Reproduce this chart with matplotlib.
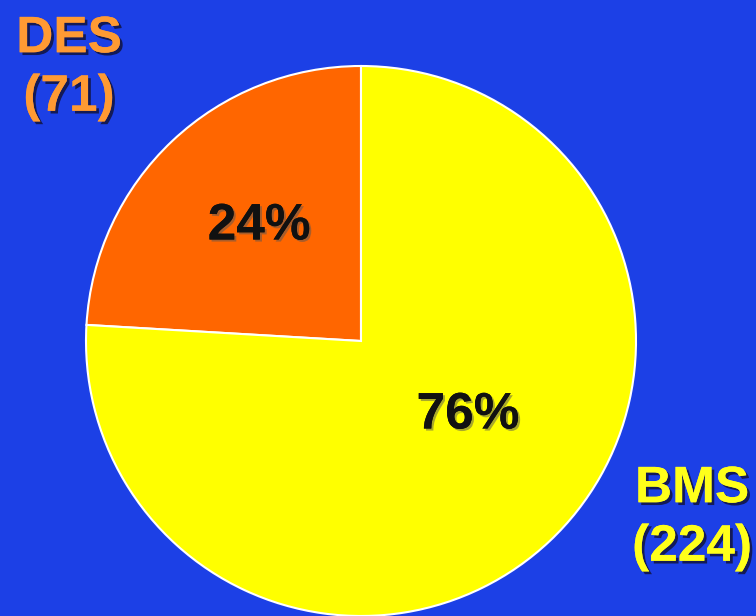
import matplotlib.pyplot as plt
import matplotlib.patheffects as pe

# survey counts per group
labels = ['DES', 'BMS']
counts = [71, 224]
colors = ['#ff6600', '#ffff00']
label_colors = ['#ff9a33', '#ffff1a']

bg = '#1c40e6'
W, H = 756, 616

fig = plt.figure(figsize=(W / 100, H / 100), dpi=100)
fig.patch.set_facecolor(bg)
ax = fig.add_axes([0, 0, 1, 1])
ax.set_facecolor(bg)

ax.pie(counts, colors=colors, startangle=90, counterclock=True,
       center=(361, H - 341), radius=275,
       wedgeprops=dict(edgecolor='white', linewidth=1.5))

ax.set_xlim(0, W)
ax.set_ylim(0, H)
ax.set_aspect('equal')
ax.axis('off')

shadow = [pe.withSimplePatchShadow(offset=(2, -2), shadow_rgbFace='#111133', alpha=0.8), pe.Normal()]
font = dict(family='Liberation Sans', weight='bold', fontsize=37)

total = sum(counts)
pct_pos = [(259, H - 226), (468, H - 415)]
for c, (x, y) in zip(counts, pct_pos):
    ax.text(x, y, f'{round(100 * c / total)}%', ha='center', va='center',
            color='#111111', path_effects=[pe.withSimplePatchShadow(offset=(1.5, -1.5), shadow_rgbFace='#555555', alpha=0.5), pe.Normal()],
            **font)

name_pos = [(69, H - 68), (692, H - 518)]
for name, c, col, (x, y) in zip(labels, counts, label_colors, name_pos):
    ax.text(x, y, f'{name}\n({c})', ha='center', va='center', color=col,
            linespacing=1.25, path_effects=shadow, **font)

fig.savefig('out.png', dpi=100, facecolor=bg)
